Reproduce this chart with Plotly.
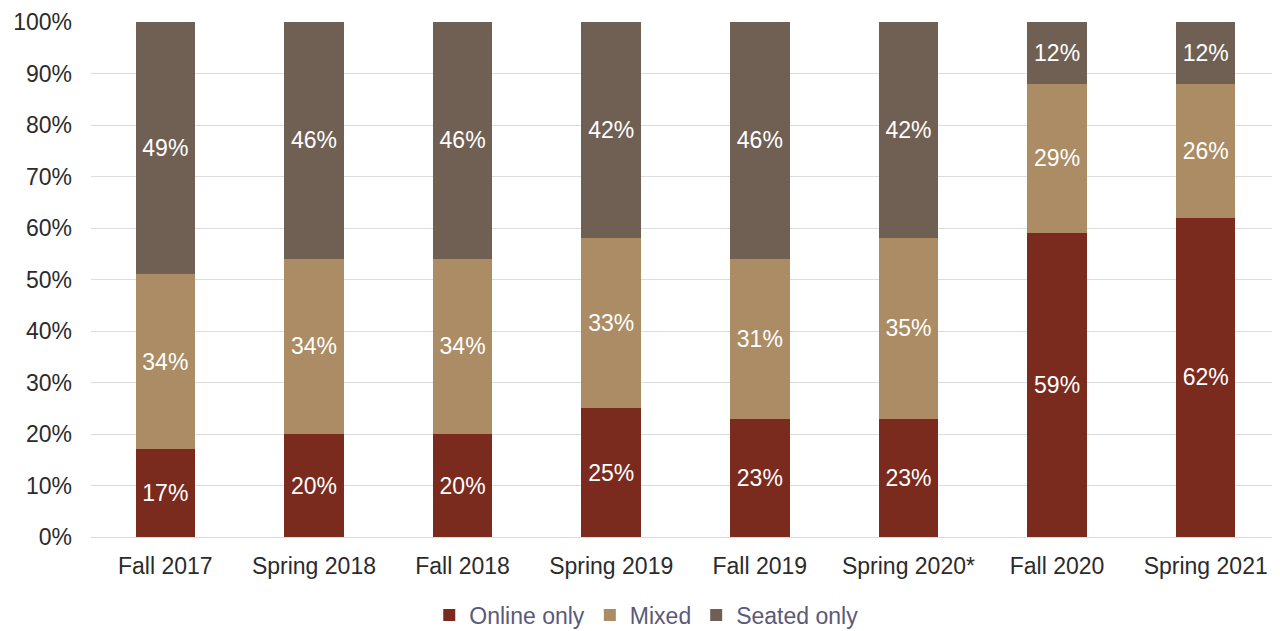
import plotly.graph_objects as go

categories = ["Fall 2017", "Spring 2018", "Fall 2018", "Spring 2019", "Fall 2019", "Spring 2020*", "Fall 2020", "Spring 2021"]
online_only = [17, 20, 20, 25, 23, 23, 59, 62]
mixed = [34, 34, 34, 33, 31, 35, 29, 26]
seated_only = [49, 46, 46, 42, 46, 42, 12, 12]

series = [
    ("Online only", online_only, "#7B2A1E"),
    ("Mixed", mixed, "#AB8C64"),
    ("Seated only", seated_only, "#705F53"),
]

FONT = "Liberation Sans, Arial, sans-serif"

fig = go.Figure()
for name, vals, color in series:
    fig.add_trace(go.Bar(
        name=name, x=categories, y=vals,
        marker=dict(color=color, line=dict(width=0)),
        text=[f"{v}%" for v in vals], textposition="inside",
        insidetextanchor="middle",
        textfont=dict(color="white", size=23, family=FONT),
        constraintext="none",
    ))

fig.update_layout(
    barmode="stack", bargap=0.6,
    width=1272, height=623,
    margin=dict(l=83, r=0, t=14, b=94, autoexpand=False),
    plot_bgcolor="white", paper_bgcolor="white",
    font=dict(family=FONT, size=23, color="#2B2B2B"),
    uniformtext=dict(mode=False),
    legend=dict(orientation="h", x=0.467, xanchor="center", y=-0.11, yanchor="top",
                font=dict(size=23, color="#5A5A78"), traceorder="normal",
                itemwidth=30, tracegroupgap=0),
    xaxis=dict(tickfont=dict(size=23, color="#2B2B2B"), showgrid=False, automargin=False,
               showline=True, linecolor="#D9D9D9", linewidth=1, ticks="",
               ticklabelstandoff=8),
    yaxis=dict(range=[0, 100], dtick=10, ticksuffix="%", showgrid=True, automargin=False,
               gridcolor="#DCDCE0", gridwidth=1, zeroline=False,
               tickfont=dict(size=23, color="#2B2B2B"), ticks="", fixedrange=True,
               ticklabeloverflow="allow", ticklabelstandoff=18),
)
fig.write_html("out.html")
